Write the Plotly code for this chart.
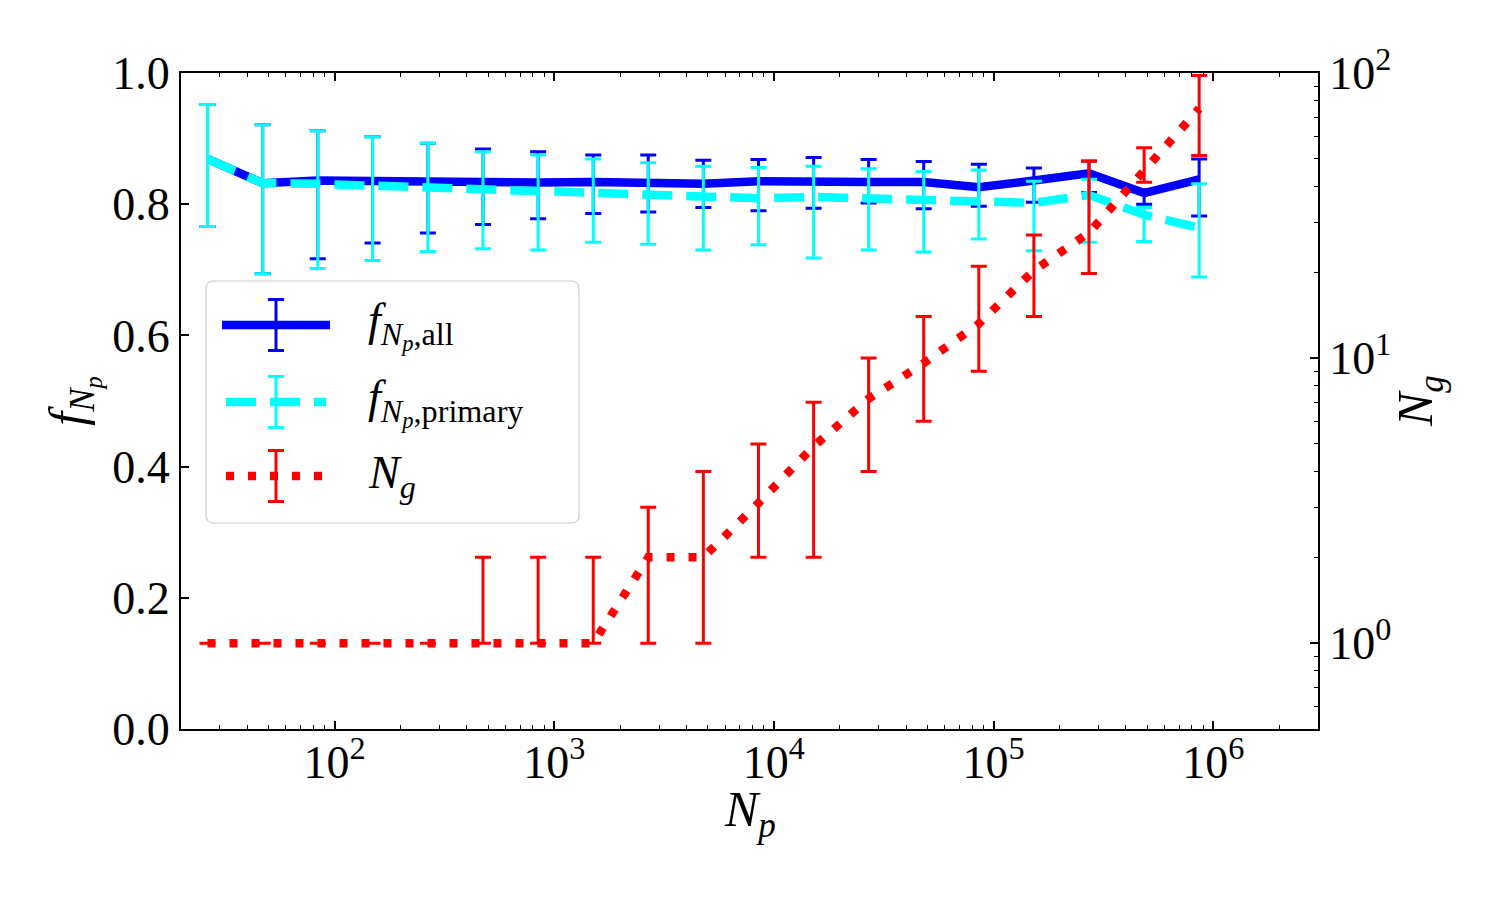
import numpy as np
import plotly.graph_objects as go

# ---------------- data ----------------
Np = [26.4, 47.1, 83.9, 149, 266, 474, 845, 1506, 2680, 4775, 8510,
      15170, 27000, 48100, 85700, 152700, 272000, 485000, 863000]

f_all = [0.869, 0.832, 0.836, 0.835, 0.833, 0.833, 0.833, 0.834, 0.833, 0.831,
         0.835, 0.836, 0.834, 0.834, 0.826, 0.836, 0.847, 0.817, 0.838]
f_all_hi = [0.952, 0.921, 0.912, 0.903, 0.893, 0.884, 0.880, 0.875, 0.875, 0.867,
            0.868, 0.871, 0.868, 0.865, 0.861, 0.855, 0.866, 0.822, 0.869]
f_all_lo = [0.766, 0.694, 0.717, 0.741, 0.756, 0.769, 0.778, 0.786, 0.788, 0.795,
            0.790, 0.794, 0.802, 0.793, 0.797, 0.803, 0.818, 0.800, 0.782]

f_prim = [0.869, 0.832, 0.831, 0.828, 0.824, 0.822, 0.819, 0.818, 0.815, 0.812,
          0.809, 0.811, 0.809, 0.807, 0.805, 0.802, 0.814, 0.784, 0.764]
f_prim_hi = [0.952, 0.921, 0.912, 0.903, 0.893, 0.880, 0.875, 0.869, 0.863, 0.858,
             0.856, 0.858, 0.854, 0.850, 0.852, 0.835, 0.838, 0.795, 0.831]
f_prim_lo = [0.766, 0.694, 0.702, 0.714, 0.728, 0.732, 0.730, 0.742, 0.739, 0.730,
             0.738, 0.718, 0.730, 0.727, 0.747, 0.729, 0.742, 0.743, 0.689]

Ng = [1, 1, 1, 1, 1, 1, 1, 1, 2, 2, 3.1, 4.9, 7.2, 9.6, 13.2, 20.3, 27.5, 45.2, 75]
Ng_hi = [1, 1, 1, 1, 1, 2, 2, 2, 3, 4, 5, 7, 10, 14, 21, 27, 49, 54.7, 98]
Ng_lo = [1, 1, 1, 1, 1, 1, 1, 1, 1, 1, 2, 2, 4, 6, 9, 14, 19.8, 41.4, 51.4]

x_tickvals = [1e2, 1e3, 1e4, 1e5, 1e6]
x_ticktext = ["10<sup>2</sup>", "10<sup>3</sup>", "10<sup>4</sup>", "10<sup>5</sup>", "10<sup>6</sup>"]
y_tickvals = [0.0, 0.2, 0.4, 0.6, 0.8, 1.0]
y_ticktext = ["0.0", "0.2", "0.4", "0.6", "0.8", "1.0"]
y2_tickvals = [1, 10, 100]
y2_ticktext = ["10<sup>0</sup>", "10<sup>1</sup>", "10<sup>2</sup>"]

x_title = "<i>N</i><sub><i>p</i></sub>"
y_title = "<i>f</i><sub><i>N</i><sub><i>p</i></sub></sub>"
y2_title = "<i>N</i><sub><i>g</i></sub>"
legend_labels = ["<i>f</i><sub><i>N</i><sub><i>p</i></sub>,all</sub>",
                 "<i>f</i><sub><i>N</i><sub><i>p</i></sub>,primary</sub>",
                 "<i>N</i><sub><i>g</i></sub>"]

# ---------------- layout geometry ----------------
W, H = 1500, 900
L, R, T, B = 181, 182, 73, 171
PW = W - L - R
PH = H - T - B
FONT = "Liberation Serif"
TICK_SIZE = 46
TITLE_SIZE = 50
BLUE, CYAN, RED = "#0000ff", "#00ffff", "#ff0000"
LW = 8.5
DASH = "30px,14px"
DOT = "8px,14px"


def px(x):
    return (x - L) / PW


def py(y):
    return (H - B - y) / PH


def err(vals, hi, lo, color):
    return dict(type="data", symmetric=False,
                array=[h - v for h, v in zip(hi, vals)],
                arrayminus=[v - l for v, l in zip(vals, lo)],
                color=color, thickness=3, width=8)


fig = go.Figure()
fig.add_trace(go.Scatter(x=Np, y=f_all, mode="lines", name="f_all",
                         line=dict(color=BLUE, width=LW),
                         error_y=err(f_all, f_all_hi, f_all_lo, BLUE)))
fig.add_trace(go.Scatter(x=Np, y=f_prim, mode="lines", name="f_primary",
                         line=dict(color=CYAN, width=LW, dash=DASH),
                         error_y=err(f_prim, f_prim_hi, f_prim_lo, CYAN)))
fig.add_trace(go.Scatter(x=Np, y=Ng, mode="lines", name="N_g", yaxis="y2",
                         line=dict(color=RED, width=LW, dash=DOT),
                         error_y=err(Ng, Ng_hi, Ng_lo, RED)))

tickfont = dict(family=FONT, size=TICK_SIZE, color="black")
titlefont = dict(family=FONT, size=TITLE_SIZE, color="black")
minor = dict(ticks="inside", ticklen=4, tickwidth=1, tickcolor="black",
             dtick="D1", showgrid=False)

fig.update_layout(
    width=W, height=H, margin=dict(l=L, r=R, t=T, b=B, autoexpand=False),
    paper_bgcolor="white", plot_bgcolor="white", showlegend=False,
    xaxis=dict(type="log", range=[np.log10(20), np.log10(3e6)],
               tickmode="array", tickvals=x_tickvals, ticktext=x_ticktext,
               ticks="inside", ticklen=8, tickwidth=1.5, tickcolor="black",
               ticklabelstandoff=-8,
               showline=True, linecolor="black", linewidth=2, mirror="ticks",
               showgrid=False, zeroline=False, minor=minor, tickfont=tickfont),
    yaxis=dict(range=[0, 1], tickmode="array", tickvals=y_tickvals, ticktext=y_ticktext,
               ticks="inside", ticklen=8, tickwidth=1.5, tickcolor="black",
               showline=True, linecolor="black", linewidth=2, mirror=False,
               showgrid=False, zeroline=False, tickfont=tickfont,
               title=dict(text=y_title, font=titlefont, standoff=12)),
    yaxis2=dict(type="log", range=[np.log10(0.5), 2], overlaying="y", side="right",
                anchor="x", tickmode="array", tickvals=y2_tickvals, ticktext=y2_ticktext,
                ticks="inside", ticklen=8, tickwidth=1.5, tickcolor="black",
                showline=True, linecolor="black", linewidth=2,
                showgrid=False, zeroline=False, minor=minor, tickfont=tickfont),
)

annotations = [
    dict(text=x_title, xref="paper", yref="paper", x=0.5, y=py(813),
         xanchor="center", yanchor="middle", showarrow=False, font=titlefont),
    dict(text=y2_title, xref="paper", yref="paper", x=px(1419), y=0.5, textangle=-90,
         xanchor="center", yanchor="middle", showarrow=False, font=titlefont),
]

# ---------------- hand-drawn legend (frame, handles, labels) ----------------
bx0, bx1, by0, by1, rad = 206, 579, 281, 523, 8
rx, ry = rad / PW, rad / PH
X0, X1, Y0, Y1 = px(bx0), px(bx1), py(by1), py(by0)
path = (f"M {X0+rx},{Y0} L {X1-rx},{Y0} Q {X1},{Y0} {X1},{Y0+ry} "
        f"L {X1},{Y1-ry} Q {X1},{Y1} {X1-rx},{Y1} L {X0+rx},{Y1} "
        f"Q {X0},{Y1} {X0},{Y1-ry} L {X0},{Y0+ry} Q {X0},{Y0} {X0+rx},{Y0} Z")
shapes = [dict(type="path", path=path, xref="paper", yref="paper",
               fillcolor="rgba(255,255,255,0.8)", line=dict(color="#cccccc", width=1.2),
               layer="above")]
rows = [(325, BLUE, "solid", 222, 330), (402, CYAN, DASH, 226, 326), (476, RED, DOT, 226, 326)]
for (yy, col, dash, lx0, lx1), lab in zip(rows, legend_labels):
    shapes.append(dict(type="line", xref="paper", yref="paper", layer="above",
                       x0=px(lx0), x1=px(lx1), y0=py(yy), y1=py(yy),
                       line=dict(color=col, width=LW, dash=dash)))
    ex = 276
    shapes.append(dict(type="line", xref="paper", yref="paper", layer="above",
                       x0=px(ex), x1=px(ex), y0=py(yy - 25.5), y1=py(yy + 25.5),
                       line=dict(color=col, width=3)))
    for cy in (yy - 25.5, yy + 25.5):
        shapes.append(dict(type="line", xref="paper", yref="paper", layer="above",
                           x0=px(ex - 8), x1=px(ex + 8), y0=py(cy), y1=py(cy),
                           line=dict(color=col, width=3)))
    annotations.append(dict(text=lab, xref="paper", yref="paper", x=px(366), y=py(yy),
                            xanchor="left", yanchor="middle", showarrow=False,
                            font=dict(family=FONT, size=TICK_SIZE, color="black")))

fig.update_layout(shapes=shapes, annotations=annotations)
fig.write_html("out.html")
